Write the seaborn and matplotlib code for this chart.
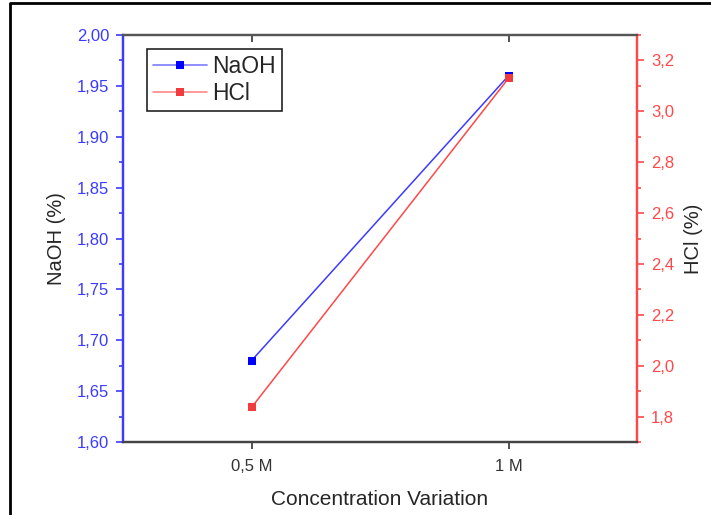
import pandas as pd
import seaborn as sns
import matplotlib.pyplot as plt
from matplotlib.ticker import FuncFormatter, MultipleLocator
from matplotlib.lines import Line2D

# Values
concentrations = ["0,5 M", "1 M"]
naoh_values = [1.68, 1.96]
hcl_values = [1.836, 3.13]

BLUE = "#3b3bff"
RED = "#ff4848"

df = pd.DataFrame({
    "Concentration": concentrations,
    "pos": range(len(concentrations)),
    "NaOH": naoh_values,
    "HCl": hcl_values,
})

sns.set_style("ticks")
plt.rcParams["font.family"] = ["Liberation Sans", "DejaVu Sans"]

fig = plt.figure(figsize=(7.11, 5.15), dpi=100)
ax = fig.add_axes([0.173, 0.1417, 0.723, 0.7903])
ax2 = ax.twinx()

sns.lineplot(data=df, x="pos", y="NaOH", ax=ax, color=BLUE, lw=1.1,
             marker="s", markersize=5.2, markeredgewidth=0, markerfacecolor="#0000ff")
sns.lineplot(data=df, x="pos", y="HCl", ax=ax2, color=RED, lw=1.1,
             marker="s", markersize=5.2, markeredgewidth=0, markerfacecolor="#f03c3c")

def comma(fmt):
    return FuncFormatter(lambda v, p: fmt.format(v).replace(".", ","))

ax.set_xlim(-0.5, 1.5)
ax.set_xticks(df["pos"])
ax.set_xticklabels(concentrations)
ax.set_ylim(1.60, 2.00)
ax.yaxis.set_major_locator(MultipleLocator(0.05))
ax.yaxis.set_minor_locator(MultipleLocator(0.025))
ax.yaxis.set_major_formatter(comma("{:.2f}"))
ax2.set_ylim(1.7, 3.3)
ax2.yaxis.set_major_locator(MultipleLocator(0.2))
ax2.yaxis.set_minor_locator(MultipleLocator(0.1))
ax2.yaxis.set_major_formatter(comma("{:.1f}"))

ax.set_xlabel("Concentration Variation", fontsize=15, labelpad=12)
ax.set_ylabel("NaOH (%)", fontsize=14.5, labelpad=8)
ax2.set_ylabel("HCl (%)", fontsize=14.5, labelpad=7)

ax.tick_params(axis="x", which="major", direction="out", length=5, width=1.2,
               colors="#333333", labelsize=12, pad=7)
ax.tick_params(axis="y", which="major", colors=BLUE, length=5, width=1.2,
               labelsize=12, pad=5)
ax.tick_params(axis="y", which="minor", colors=BLUE, length=3, width=1.2)
ax2.tick_params(axis="y", which="major", colors=RED, length=5, width=1.2,
                labelsize=12, pad=5)
ax2.tick_params(axis="y", which="minor", colors=RED, length=3, width=1.2)
ax.xaxis.set_tick_params(which="major", top=True)
for t in ax.xaxis.get_major_ticks():
    t.tick2line.set_marker(3)
    t.tick2line.set_markersize(5)

for a in (ax, ax2):
    a.spines["top"].set_color("#555555")
    a.spines["bottom"].set_color("#444444")
    a.spines["left"].set_color(BLUE)
    a.spines["right"].set_color(RED)
    for s in a.spines.values():
        s.set_linewidth(1.6)

handles = [
    Line2D([], [], color="#7a7aff", lw=1.2, marker="s", markersize=5.2,
           markeredgewidth=0, markerfacecolor="#0000ff"),
    Line2D([], [], color="#ff8888", lw=1.2, marker="s", markersize=5.2,
           markeredgewidth=0, markerfacecolor="#f03c3c"),
]
leg = ax.legend(handles, ["NaOH", "HCl"], loc="upper left",
                bbox_to_anchor=(0.047, 0.965), fontsize=16.5, frameon=True,
                fancybox=False, edgecolor="#222222", framealpha=1,
                handlelength=2.35, handletextpad=0.25, borderpad=0.25,
                borderaxespad=0, labelspacing=0.18, numpoints=1)
leg.get_frame().set_linewidth(1.2)

# outer frame of the picture (only left and top edges are visible)
fig.add_artist(Line2D([0.0145, 0.0145, 1.0], [0.0, 0.994, 0.994],
                      transform=fig.transFigure, color="black", lw=2))

fig.savefig("out.png", dpi=100)
